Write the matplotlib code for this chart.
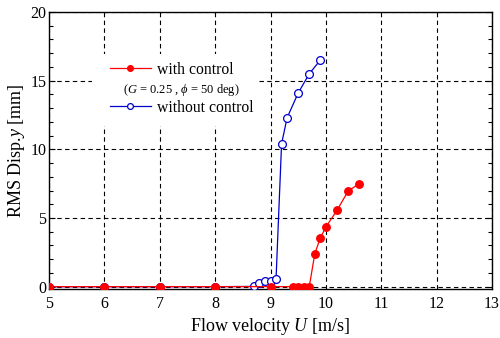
import matplotlib.pyplot as plt
from matplotlib.patches import Rectangle
from matplotlib.ticker import MultipleLocator

plt.rcParams['font.family'] = ['Liberation Serif', 'DejaVu Serif']
plt.rcParams['mathtext.fontset'] = 'custom'
plt.rcParams['mathtext.rm'] = 'Liberation Serif'
plt.rcParams['mathtext.it'] = 'Liberation Serif:italic'

# without control (open blue circles)
u_off = [5, 6, 7, 8, 8.7, 8.8, 8.9, 9.0, 9.1, 9.2, 9.3, 9.5, 9.7, 9.9]
y_off = [0, 0, 0, 0, 0.02, 0.3, 0.4, 0.4, 0.56, 10.4, 12.3, 14.1, 15.5, 16.5]

# with control (filled red circles)
u_on = [5, 6, 7, 8, 9, 9.4, 9.5, 9.6, 9.7, 9.8, 9.9, 10.0, 10.2, 10.4, 10.6]
y_on = [0, 0, 0, 0, 0, 0, 0, 0, 0, 2.4, 3.55, 4.35, 5.55, 6.95, 7.5]

fig = plt.figure(figsize=(5, 3.38), dpi=100)
ax = fig.add_axes([0.098, 0.145, 0.886, 0.8195])

l_off, = ax.plot(u_off, y_off, '-o', color='#0000cc', lw=0.9, ms=5.6,
                 mfc='white', mec='#0000cc', mew=0.9, zorder=3)
l_on, = ax.plot(u_on, y_on, '-o', color='red', lw=0.9, ms=5.4,
                mfc='red', mec='red', zorder=4)

ax.set_xlim(5, 13)
ax.set_ylim(-0.17, 20)
ax.xaxis.set_major_locator(MultipleLocator(1))
ax.yaxis.set_major_locator(MultipleLocator(5))
ax.yaxis.set_minor_locator(MultipleLocator(1))
ax.tick_params(which='both', direction='in', right=True, labelsize=11.5,
               width=0.8, pad=2)
ax.tick_params(which='major', length=4)
ax.tick_params(which='minor', length=3)
ax.tick_params(axis='x', which='major', length=0, pad=5)
for s in ax.spines.values():
    s.set_linewidth(1.0)

ax.grid(True, which='major', color='black', ls=(0, (4, 3)), lw=0.8)
ax.set_axisbelow(True)

ax.set_xlabel('Flow velocity $\\it{U}$ [m/s]', fontsize=13, labelpad=3)
ax.set_ylabel('RMS Disp.$\\it{y}$ [mm]', fontsize=13, labelpad=2)

# white block behind the legend hides the grid there
ax.add_patch(Rectangle((0.097, 0.589), 0.3725, 0.2595, transform=ax.transAxes,
                       fc='white', ec='none', zorder=2))

leg = ax.legend([l_on, l_off], ['with control', 'without control'],
                loc='center left', bbox_to_anchor=(0.1377, 0.7225),
                fontsize=11.3, frameon=False, handlelength=2.6,
                handletextpad=0.38, labelspacing=1.4, borderpad=0,
                borderaxespad=0, markerscale=0.75)
leg.set_zorder(5)
ax.text(0.298, 0.719, '($\\it{G}$ = 0.25 , $\\it{\\phi}$ = 50 deg)',
        transform=ax.transAxes, fontsize=9, ha='center', va='center',
        zorder=6)

fig.savefig('out.png', dpi=100)
